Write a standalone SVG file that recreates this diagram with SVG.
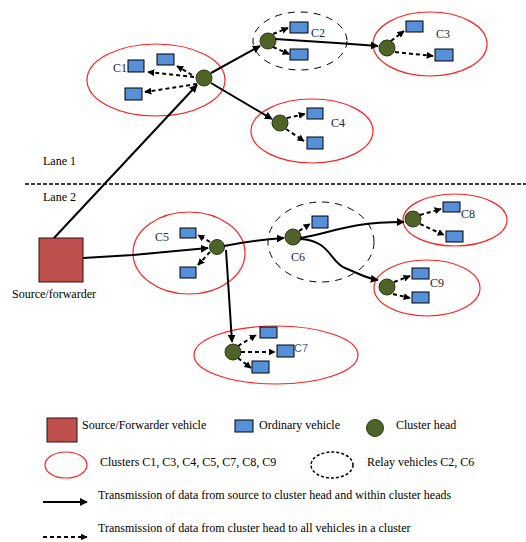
<svg xmlns="http://www.w3.org/2000/svg" width="526" height="542" viewBox="0 0 526 542">
<defs>
<marker id="ah" viewBox="0 0 10 10" refX="9" refY="5" markerWidth="4" markerHeight="4" markerUnits="strokeWidth" orient="auto">
<path d="M0,0 L10,5 L0,10 z" fill="#000"/>
</marker>
<marker id="ahd" viewBox="0 0 10 10" refX="9" refY="5" markerWidth="3.5" markerHeight="3.5" markerUnits="strokeWidth" orient="auto">
<path d="M0,0 L10,5 L0,10 z" fill="#000"/>
</marker>
</defs>
<style>
text{font-family:"Liberation Serif","Times New Roman",serif;font-size:12px;fill:#000}
.lbl{fill:#1d2540}
.cl{fill:none;stroke:#ff2020;stroke-width:1.2}
.rl{fill:none;stroke:#000;stroke-width:1;stroke-dasharray:7 6}
.veh{fill:#5590d8;stroke:#000;stroke-width:1}
.ch{fill:#4f6228;stroke:#2e3a16;stroke-width:1}
.src{fill:#c0504d;stroke:#2a1010;stroke-width:1}
.tx{fill:none;stroke:#000;stroke-width:2;marker-end:url(#ah)}
.dx{fill:none;stroke:#000;stroke-width:2;stroke-dasharray:4 3;marker-end:url(#ahd)}
</style>
<rect width="526" height="542" fill="#fff"/>

<g id="lanes">
<line x1="25" y1="184" x2="526" y2="184" stroke="#000" stroke-width="1.5" stroke-dasharray="4 2"/>
<text x="43" y="165">Lane 1</text>
<text x="43" y="201">Lane 2</text>
</g>

<g id="c1">
<ellipse class="cl" cx="156" cy="80" rx="69" ry="36"/>
<text class="lbl" x="113" y="72">C1</text>
<rect class="veh" x="128" y="60" width="16" height="12"/>
<rect class="veh" x="157" y="54" width="17" height="11"/>
<rect class="veh" x="125" y="88" width="17" height="12"/>
<circle class="ch" cx="204" cy="78" r="8"/>
</g>
<g id="c2">
<ellipse class="rl" cx="300" cy="41" rx="47" ry="29"/>
<text class="lbl" x="311" y="37">C2</text>
<rect class="veh" x="290" y="22" width="18" height="11"/>
<rect class="veh" x="290" y="49" width="18" height="11"/>
<circle class="ch" cx="268" cy="41" r="8"/>
</g>
<g id="c3">
<ellipse class="cl" cx="430" cy="44" rx="57" ry="32"/>
<text class="lbl" x="436" y="38">C3</text>
<rect class="veh" x="406" y="21" width="17" height="11"/>
<rect class="veh" x="435" y="49" width="18" height="12"/>
<circle class="ch" cx="387" cy="48" r="8"/>
</g>
<g id="c4">
<ellipse class="cl" cx="312" cy="131" rx="61" ry="32"/>
<text class="lbl" x="331" y="127">C4</text>
<rect class="veh" x="307" y="108" width="16" height="11"/>
<rect class="veh" x="307" y="137" width="16" height="12"/>
<circle class="ch" cx="280" cy="123" r="8"/>
</g>
<g id="source">
<rect class="src" x="39" y="238" width="44" height="44"/>
<text x="12" y="298">Source/forwarder</text>
</g>
<g id="c5">
<ellipse class="cl" cx="189" cy="253" rx="56" ry="41"/>
<text class="lbl" x="155" y="241">C5</text>
<rect class="veh" x="180" y="228" width="16" height="10"/>
<rect class="veh" x="180" y="267" width="16" height="11"/>
<circle class="ch" cx="217" cy="247" r="7.5"/>
</g>
<g id="c6">
<ellipse class="rl" cx="321" cy="242" rx="53" ry="40"/>
<text class="lbl" x="291" y="261">C6</text>
<rect class="veh" x="312" y="216" width="16" height="12"/>
<circle class="ch" cx="293" cy="237" r="8"/>
</g>
<g id="c7">
<ellipse class="cl" cx="276" cy="355" rx="82" ry="29"/>
<text class="lbl" x="294" y="352" style="font-family:'Liberation Sans',Arial,sans-serif;font-size:11px;fill:#4a5e9a">C7</text>
<rect class="veh" x="260" y="327" width="17" height="11"/>
<rect class="veh" x="277" y="345" width="17" height="12"/>
<rect class="veh" x="252" y="361" width="17" height="12"/>
<circle class="ch" cx="233" cy="352" r="8"/>
</g>
<g id="c8">
<ellipse class="cl" cx="455" cy="220" rx="52" ry="26"/>
<text class="lbl" x="461" y="218">C8</text>
<rect class="veh" x="443" y="202" width="17" height="10"/>
<rect class="veh" x="446" y="231" width="17" height="11"/>
<circle class="ch" cx="413" cy="219" r="8"/>
</g>
<g id="c9">
<ellipse class="cl" cx="427" cy="288" rx="53" ry="28"/>
<text class="lbl" x="430" y="287">C9</text>
<rect class="veh" x="412" y="268" width="17" height="11"/>
<rect class="veh" x="412" y="292" width="17" height="11"/>
<circle class="ch" cx="387" cy="287" r="8"/>
</g>

<g id="connectors">
<line class="tx" x1="54" y1="238" x2="197" y2="85"/>
<line class="tx" x1="211" y1="73" x2="260" y2="46"/>
<line class="tx" x1="211" y1="83" x2="272" y2="119"/>
<path class="tx" d="M275,39 L337,43 L378,46"/>
<path class="tx" d="M83,258 L133,255 L208,248"/>
<path class="tx" d="M224,246 Q255,240 284,238"/>
<path class="tx" d="M226,250 L232,342"/>
<path class="tx" d="M300,238 C330,234 345,222 404,222"/>
<path class="tx" d="M300,239 C330,240 330,262 345,268 S365,278 378,280"/>

<line class="dx" x1="194" y1="77" x2="148" y2="72"/>
<line class="dx" x1="192" y1="75" x2="177" y2="66"/>
<line class="dx" x1="197" y1="84" x2="145" y2="92"/>
<line class="dx" x1="273" y1="34" x2="288" y2="28"/>
<line class="dx" x1="273" y1="47" x2="289" y2="54"/>
<line class="dx" x1="391" y1="41" x2="404" y2="31"/>
<line class="dx" x1="395" y1="52" x2="433" y2="56"/>
<line class="dx" x1="287" y1="118" x2="305" y2="114"/>
<line class="dx" x1="286" y1="129" x2="304" y2="141"/>
<line class="dx" x1="210" y1="242" x2="198" y2="235"/>
<line class="dx" x1="210" y1="252" x2="198" y2="265"/>
<line class="dx" x1="299" y1="231" x2="310" y2="224"/>
<line class="dx" x1="238" y1="346" x2="256" y2="335"/>
<line class="dx" x1="241" y1="352" x2="275" y2="352"/>
<line class="dx" x1="238" y1="358" x2="251" y2="368"/>
<line class="dx" x1="420" y1="215" x2="441" y2="209"/>
<line class="dx" x1="420" y1="224" x2="444" y2="235"/>
<line class="dx" x1="394" y1="282" x2="410" y2="276"/>
<line class="dx" x1="393" y1="294" x2="410" y2="298"/>
</g>

<g id="legend">
<rect class="src" x="47" y="418" width="30" height="24"/>
<text x="82" y="429">Source/Forwarder vehicle</text>
<rect class="veh" x="235" y="420" width="18" height="12"/>
<text x="259" y="429">Ordinary vehicle</text>
<circle class="ch" cx="375" cy="428" r="8.5"/>
<text x="396" y="429">Cluster head</text>
<ellipse class="cl" cx="66" cy="465" rx="21" ry="13"/>
<text x="100" y="466">Clusters C1, C3, C4, C5, C7, C8, C9</text>
<ellipse fill="none" stroke="#000" stroke-width="1.5" stroke-dasharray="3 2" cx="332" cy="465" rx="21" ry="13"/>
<text x="367" y="466">Relay vehicles C2, C6</text>
<line class="tx" x1="43" y1="502" x2="87" y2="502"/>
<text x="98" y="499">Transmission of data from source to cluster head and within cluster heads</text>
<line class="dx" x1="43" y1="537" x2="87" y2="537"/>
<text x="98" y="532">Transmission of data from cluster head to all vehicles in a cluster</text>
</g>
</svg>
